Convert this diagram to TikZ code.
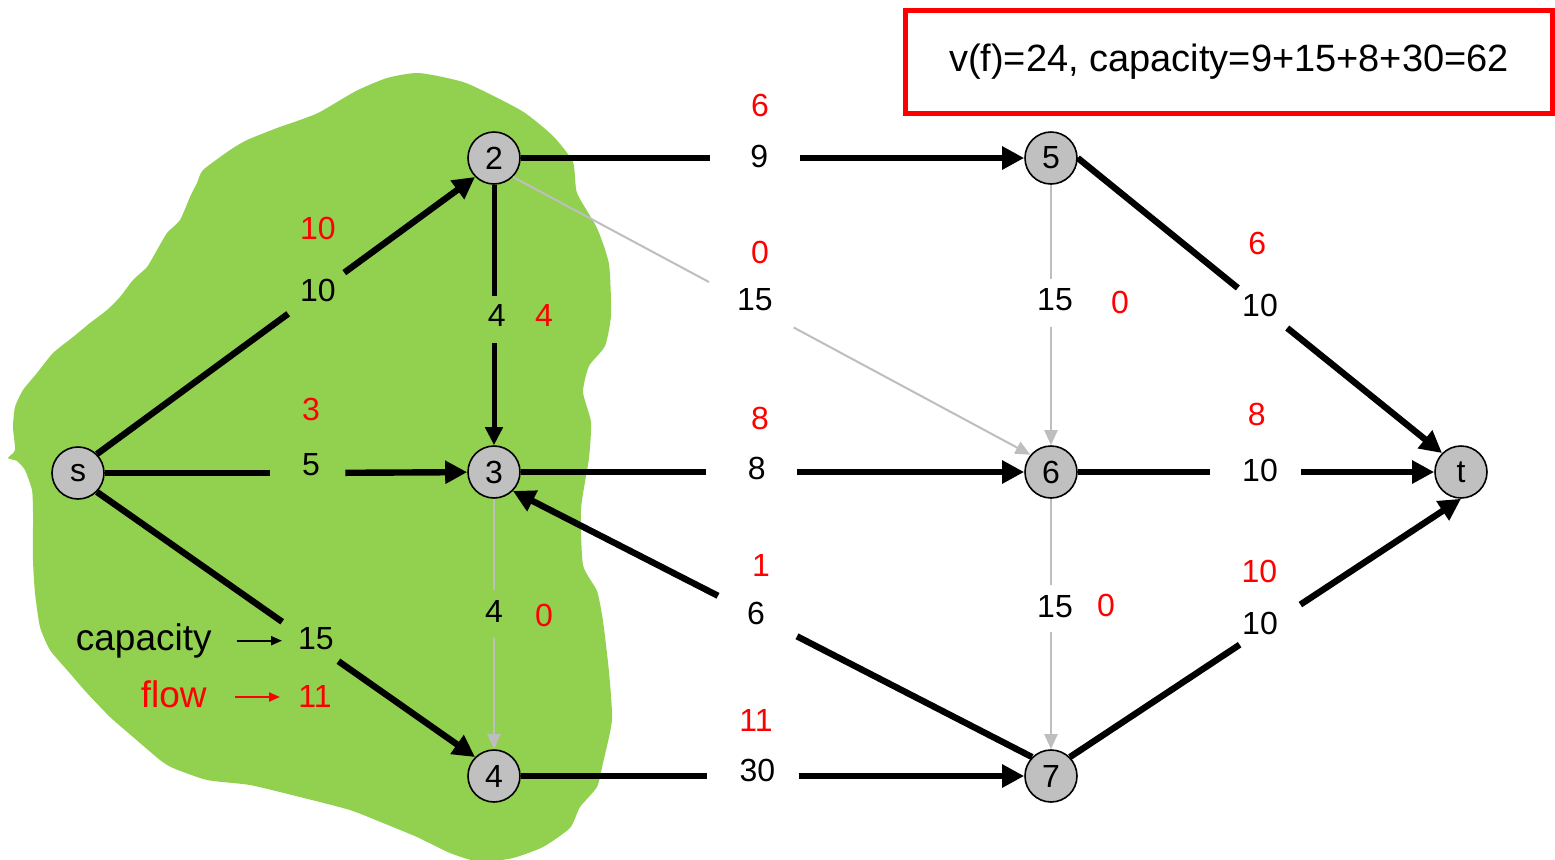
\documentclass[tikz,border=0pt]{standalone}
\usepackage{fontspec}
\setmainfont{Liberation Sans}
\usetikzlibrary{arrows.meta}
\definecolor{blobgreen}{RGB}{146,208,80}
\definecolor{nodegray}{RGB}{192,192,192}
\definecolor{edgegray}{RGB}{190,190,190}
\definecolor{flowred}{RGB}{255,0,0}
\begin{document}
\begin{tikzpicture}[x=0.5pt,y=-0.5pt,
  vert/.style={circle, draw=black, line width=0.8pt, fill=nodegray, minimum size=26pt, inner sep=0pt, font=\fontsize{16}{16}\selectfont},
  gapn/.style={circle, draw=none, inner sep=0pt},
  capl/.style={font=\fontsize{16}{16}\selectfont, inner sep=0pt},
  flowl/.style={capl, text=flowred},
  heavy/.style={line width=3.2pt, draw=black},
  heavyarr/.style={heavy, -{Triangle[length=11pt,width=11pt]}},
  medium/.style={line width=2.5pt, draw=black},
  medarr/.style={medium, -{Triangle[length=9pt,width=8.5pt]}},
  lightedge/.style={line width=1pt, draw=edgegray},
  lightarr/.style={lightedge, -{Triangle[length=7.5pt,width=6.5pt]}},
  legarr/.style={line width=1pt, -{Triangle[length=5.5pt,width=4.5pt]}},
  legtext/.style={font=\fontsize{18.5}{18.5}\selectfont, inner sep=0pt},
]
\useasboundingbox (0,0) rectangle (1555,859);
\fill[white] (0,0) rectangle (1555,859);

% green region
\fill[blobgreen] plot[smooth cycle, tension=0.35] coordinates {
 (356,91) (387,78) (419,73) (466,83) (522,111) (553,136) (573,162) (577,193) (597,228)
 (609,264) (611,315) (605,346) (589,366) (583,392) (591,422) (589,458) (581,509)
 (583,565) (597,591) (603,621) (609,672) (612,720) (603,763) (597,787) (580,807)
 (570,828) (543,847) (513,858) (480,862) (450,853) (417,837) (383,823) (350,810)
 (300,797) (250,785) (207,780) (173,768) (160,760) (133,737) (110,717) (87,693)
 (67,670) (50,650) (40,627) (35,593) (33,560) (33,513) (32,490) (25,470) (17,461)
 (8,458) (15,450) (13,427) (15,407) (23,390) (37,373) (53,353) (73,337) (90,323)
 (107,310) (120,297) (133,280) (147,267) (157,250) (167,233) (180,220) (190,197)
 (197,183) (203,170) (230,150) (247,140) (277,128) (300,120) (320,112)};

% vertices
\node[vert] (ns) at (78,473) {s};
\node[vert] (n2) at (494,158) {2};
\node[vert] (n3) at (494,472) {3};
\node[vert] (n4) at (494,776) {4};
\node[vert] (n5) at (1051,158) {5};
\node[vert] (n6) at (1051,472) {6};
\node[vert] (n7) at (1051,776) {7};
\node[vert] (nt) at (1461,472) {t};

% gaps in the edges where the labels sit
\node[gapn, minimum size=34.4pt] (gs2) at (316.2,293.2) {};
\node[gapn, minimum size=37.5pt] (gs3) at (307.5,473) {};
\node[gapn, minimum size=33.9pt] (gs4) at (310.3,641.5) {};
\node[gapn, minimum size=23.5pt] (g23) at (494,319.4) {};
\node[gapn, minimum size=23pt] (g34) at (494,613.5) {};
\node[gapn, minimum size=45pt] (g25) at (755,158) {};
\node[gapn, minimum size=47.7pt] (g26) at (751.3,304.7) {};
\node[gapn, minimum size=45pt] (g36) at (751.7,472) {};
\node[gapn, minimum size=44pt] (g73) at (757.5,616) {};
\node[gapn, minimum size=45.5pt] (g47) at (752.8,776) {};
\node[gapn, minimum size=23.5pt] (g56) at (1051,303) {};
\node[gapn, minimum size=23pt] (g67) at (1051,608.8) {};
\node[gapn, minimum size=31.4pt] (g5t) at (1262.5,308) {};
\node[gapn, minimum size=45pt] (g6t) at (1255.8,472) {};
\node[gapn, minimum size=36pt] (g7t) at (1270,624.6) {};

% edges
\draw[heavy] (ns.north east) -- (gs2); \draw[heavyarr] (gs2) -- (n2.south west);
\draw[heavy] (ns) -- (gs3); \draw[heavyarr] (gs3) -- (n3);
\draw[heavy] (ns.south east) -- (gs4); \draw[heavyarr] (gs4) -- (n4.north west);
\draw[medium] (n2) -- (g23); \draw[medarr] (g23) -- (n3);
\draw[lightedge] (n3) -- (g34); \draw[lightarr] (g34) -- (n4);
\draw[heavy] (n2) -- (g25); \draw[heavyarr] (g25) -- (n5);
\draw[lightedge] (n2.south east) -- (g26); \draw[lightarr] (g26) -- (n6.140);
\draw[heavy] (n3) -- (g36); \draw[heavyarr] (g36) -- (n6);
\draw[heavy] (n7.north west) -- (g73); \draw[heavyarr] (g73) -- (n3.south east);
\draw[heavy] (n4) -- (g47); \draw[heavyarr] (g47) -- (n7);
\draw[lightedge] (n5) -- (g56); \draw[lightarr] (g56) -- (n6);
\draw[lightedge] (n6) -- (g67); \draw[lightarr] (g67) -- (n7);
\draw[heavy] (n5.east) -- (g5t); \draw[heavyarr] (g5t) -- (nt.north west);
\draw[heavy] (n6) -- (g6t); \draw[heavyarr] (g6t) -- (nt);
\draw[heavy] (n7.north east) -- (g7t); \draw[heavyarr] (g7t) -- (nt.south);

% capacities (black) and flows (red)
\node[capl] (cs2) at (318,290.6) {10};  \node[flowl] (fs2) at (318,228.4) {10};
\node[capl] (cs3) at (311,464.6) {5};   \node[flowl] (fs3) at (311,409.5) {3};
\node[capl] (cs4) at (316,639) {15};    \node[flowl] (fs4) at (315,696.7) {11};
\node[capl] (c23) at (496.7,315) {4};   \node[flowl] (f23) at (544,315) {4};
\node[capl] (c34) at (494,611) {4};     \node[flowl] (f34) at (544,615) {0};
\node[capl] (c25) at (759.3,156) {9};   \node[flowl] (f25) at (760,105) {6};
\node[capl] (c26) at (755,300) {15};    \node[flowl] (f26) at (760,252.7) {0};
\node[capl] (c36) at (756.7,468.3) {8}; \node[flowl] (f36) at (760,418.3) {8};
\node[capl] (c73) at (756,613.3) {6};   \node[flowl] (f73) at (761,565.7) {1};
\node[capl] (c47) at (757.3,770) {30};  \node[flowl] (f47) at (756,720.7) {11};
\node[capl] (c56) at (1055,300) {15};   \node[flowl] (f56) at (1120,302.7) {0};
\node[capl] (c67) at (1055,606.7) {15}; \node[flowl] (f67) at (1106,605) {0};
\node[capl] (c5t) at (1260,305) {10};   \node[flowl] (f5t) at (1257.3,243.3) {6};
\node[capl] (c6t) at (1260,470) {10};   \node[flowl] (f6t) at (1256.7,414) {8};
\node[capl] (c7t) at (1260,623.3) {10}; \node[flowl] (f7t) at (1259.3,571.7) {10};

% legend
\node[legtext, anchor=base east] (legcap) at (212,650) {capacity};
\node[legtext, anchor=base east, text=flowred] (legflow) at (207,707) {flow};
\coordinate (lca) at (236.7,640.7);
\coordinate (lcb) at (282,640.7);
\coordinate (lfa) at (235,697);
\coordinate (lfb) at (280,697);
\draw[legarr, black] (lca) -- (lcb);
\draw[legarr, flowred] (lfa) -- (lfb);

% value box
\node[draw=flowred, line width=2.6pt, minimum width=323.5pt, minimum height=51.5pt, inner sep=0pt,
      font=\fontsize{19}{19}\selectfont] (vbox) at (1229,62) {v(f)=24, capacity=9+15+8+30=62};
\end{tikzpicture}
\end{document}
